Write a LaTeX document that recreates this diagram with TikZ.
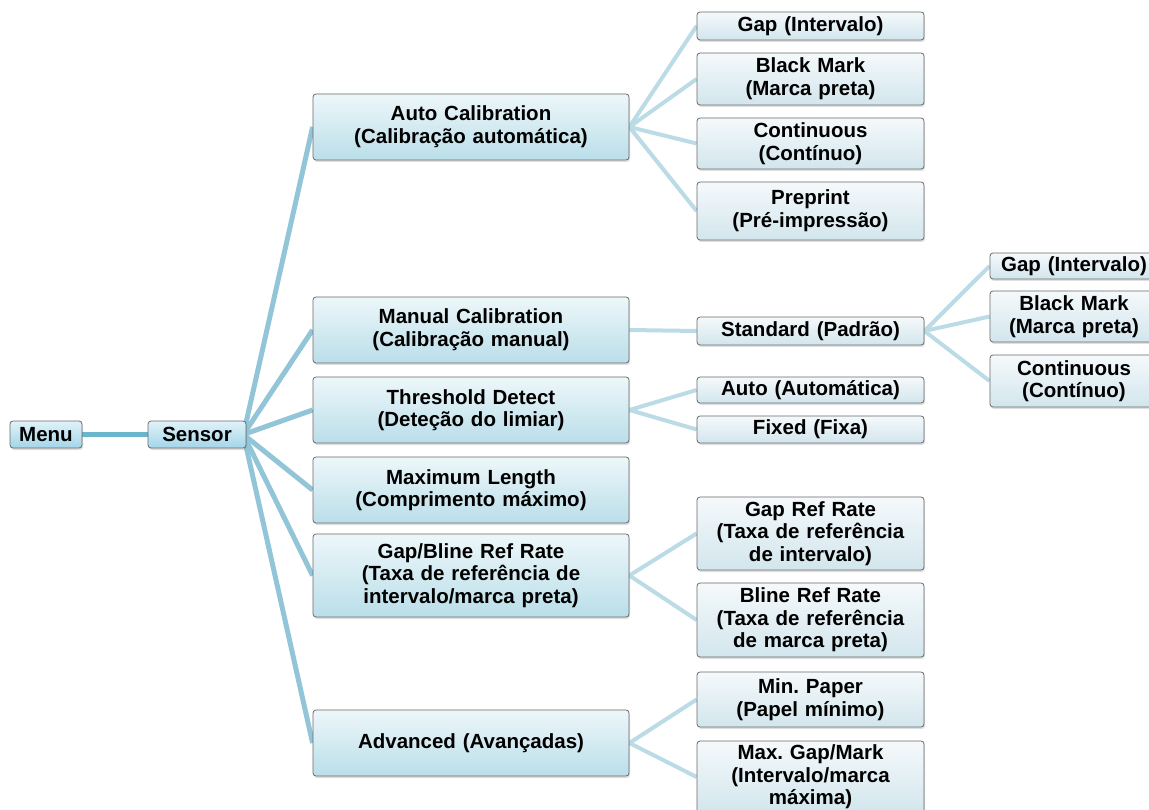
\documentclass[tikz,border=0pt]{standalone}
\usepackage{fontspec}
\setmainfont{Liberation Sans}
\usetikzlibrary{shadows,backgrounds}
\frenchspacing
\definecolor{lineA}{HTML}{6CB6CC}
\definecolor{lineB}{HTML}{92C5D7}
\definecolor{lineC}{HTML}{BBDBE6}
\definecolor{boxedge}{HTML}{6A6A6A}
\definecolor{c1a}{HTML}{E0F2F9}
\definecolor{c1b}{HTML}{A3D6E9}
\definecolor{c2a}{HTML}{EDF7FA}
\definecolor{c2b}{HTML}{BADEE9}
\definecolor{c3a}{HTML}{F5F9FB}
\definecolor{c3b}{HTML}{D2E6ED}
\tikzset{
  base/.style={draw=boxedge, line width=0.8pt, rounded corners=3pt, align=center,
    font=\fontsize{20.5}{22.6}\selectfont\bfseries, inner sep=0pt,
    drop shadow={opacity=0.25, shadow xshift=1pt, shadow yshift=-2pt}},
  lvA/.style={base, top color=c1a, bottom color=c1b},
  lvB/.style={base, top color=c2a, bottom color=c2b, minimum width=316pt, text width=300pt},
  lvC/.style={base, top color=c3a, bottom color=c3b, minimum width=227pt, text width=220pt},
  lvD/.style={base, top color=c3a, bottom color=c3b, minimum width=168pt, text width=160pt},
  conA/.style={draw=lineA, line width=5pt},
  conB/.style={draw=lineB, line width=5pt},
  conC/.style={draw=lineC, line width=4pt},
}
\begin{document}
\begin{tikzpicture}[x=1pt,y=-1pt]
\useasboundingbox (0,0) rectangle (1149,810);
% level 1
\node[lvA, minimum width=72pt, minimum height=27pt] (menu) at (46,434.5) {Menu};
\node[lvA, minimum width=98pt, minimum height=27pt] (sensor) at (197,434.5) {Sensor};
% level 2
\node[lvB, minimum height=66pt] (auto) at (471,127) {Auto Calibration\\(Calibração automática)};
\node[lvB, minimum height=66pt] (manual) at (471,330) {Manual Calibration\\(Calibração manual)};
\node[lvB, minimum height=66pt] (thresh) at (471,410) {Threshold Detect\\(Deteção do limiar)};
\node[lvB, minimum height=66pt] (maxlen) at (471,490) {Maximum Length\\(Comprimento máximo)};
\node[lvB, minimum height=83pt] (gapb) at (471,575.5) {Gap/Bline Ref Rate\\(Taxa de referência de\\intervalo/marca preta)};
\node[lvB, minimum height=66pt] (adv) at (471,743) {Advanced (Avançadas)};
% level 3
\node[lvC, minimum height=28pt] (gapA) at (810.5,26) {Gap (Intervalo)};
\node[lvC, minimum height=52pt] (bmA) at (810.5,79) {Black Mark\\(Marca preta)};
\node[lvC, minimum height=51pt] (contA) at (810.5,143.5) {Continuous\\(Contínuo)};
\node[lvC, minimum height=58pt] (pre) at (810.5,211) {Preprint\\(Pré-impressão)};
\node[lvC, minimum height=28pt] (std) at (810.5,331) {Standard (Padrão)};
\node[lvC, minimum height=26pt] (autom) at (810.5,390) {Auto (Automática)};
\node[lvC, minimum height=27pt] (fixed) at (810.5,429.5) {Fixed (Fixa)};
\node[lvC, minimum height=73pt] (gref) at (810.5,533.5) {Gap Ref Rate\\(Taxa de referência\\de intervalo)};
\node[lvC, minimum height=74pt] (bref) at (810.5,620) {Bline Ref Rate\\(Taxa de referência\\de marca preta)};
\node[lvC, minimum height=55pt] (minp) at (810.5,699.5) {Min. Paper\\(Papel mínimo)};
\node[lvC, minimum height=72pt] (maxg) at (810.5,777) {Max. Gap/Mark\\(Intervalo/marca\\máxima)};
% level 4
\node[lvD, minimum height=26pt] (gapB) at (1074,266) {Gap (Intervalo)};
\node[lvD, minimum height=51pt] (bmB) at (1074,316.5) {Black Mark\\(Marca preta)};
\node[lvD, minimum height=52pt] (contB) at (1074,381) {Continuous\\(Contínuo)};
% connectors
\begin{scope}[on background layer]
\draw[conA] (menu.east) -- (sensor.west);
\foreach \n in {auto,manual,thresh,maxlen,gapb,adv}
  \draw[conB] ([xshift=-3pt]sensor.east) -- (\n.west);
\foreach \n in {gapA,bmA,contA,pre}
  \draw[conC] (auto.east) -- (\n.west);
\draw[conC] (manual.east) -- (std.west);
\foreach \n in {autom,fixed}
  \draw[conC] (thresh.east) -- (\n.west);
\foreach \n in {gref,bref}
  \draw[conC] (gapb.east) -- (\n.west);
\foreach \n in {minp,maxg}
  \draw[conC] (adv.east) -- (\n.west);
\foreach \n in {gapB,bmB,contB}
  \draw[conC] (std.east) -- (\n.west);
\end{scope}
\end{tikzpicture}
\end{document}
